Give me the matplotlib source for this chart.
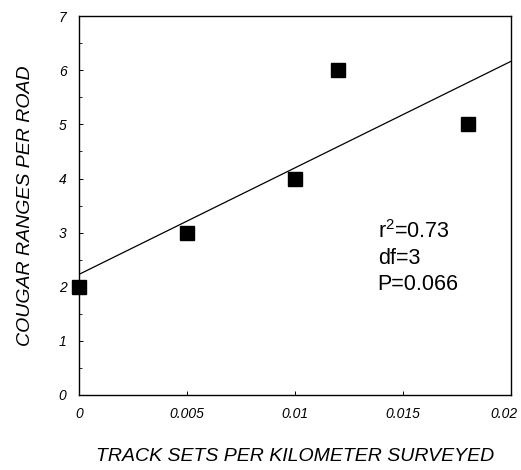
import matplotlib
matplotlib.use("Agg")
import matplotlib.pyplot as plt
import matplotlib.transforms as mtransforms
import numpy as np

# track sets per km surveyed vs cougar ranges per road
track_sets = [0.0, 0.005, 0.010, 0.012, 0.018]
ranges_per_road = [2, 3, 4, 6, 5]
x_ticks = [0, 0.005, 0.01, 0.015, 0.02]
x_tick_labels = ["0", "0.005", "0.01", "0.015", "0.02"]
y_ticks = [0, 1, 2, 3, 4, 5, 6, 7]
stats_lines = ["r$^2$=0.73", "df=3", "P=0.066"]

plt.rcParams['font.family'] = ['Liberation Sans', 'DejaVu Sans']
plt.rcParams['mathtext.fontset'] = 'custom'
plt.rcParams['mathtext.rm'] = 'Liberation Sans'

fig = plt.figure(figsize=(5.21, 4.70), dpi=100, facecolor='white')
ax = fig.add_axes([0.1516, 0.1596, 0.829, 0.806])

# least squares line from the points
slope, intercept = np.polyfit(track_sets, ranges_per_road, 1)
xl = np.array([0, 0.02])
ax.plot(xl, intercept + slope * xl, color='black', lw=0.9)

ax.plot(track_sets, ranges_per_road, 's', color='black', ms=9.5, clip_on=False)

ax.set_xlim(0, 0.02)
ax.set_ylim(0, 7)
ax.set_xticks(x_ticks)
ax.set_xticklabels(x_tick_labels, fontsize=10, style='italic')
ax.set_yticks(y_ticks)
ax.set_yticklabels([str(v) for v in y_ticks], fontsize=10, style='italic')
ax.set_yticks(np.arange(0.5, 7, 1), minor=True)
ax.tick_params(direction='in', length=3, width=0.7, pad=9)
ax.tick_params(which='minor', direction='in', length=2, width=0.6)
for s in ax.spines.values():
    s.set_linewidth(1.0)

# last x label sits a bit left so it stays on the page
last = ax.get_xticklabels()[-1]
last.set_transform(last.get_transform() +
                   mtransforms.ScaledTranslation(-5 / 72, 0, fig.dpi_scale_trans))

# stats block, one line each
for i, line in enumerate(stats_lines):
    ax.text(0.6915, 0.414 - i * 0.069, line, transform=ax.transAxes,
            fontsize=15.5, va='baseline', ha='left')

ax.set_xlabel('TRACK SETS PER KILOMETER SURVEYED', fontsize=14, style='italic', labelpad=19)
ax.set_ylabel('COUGAR RANGES PER ROAD', fontsize=14, style='italic', labelpad=18)

fig.savefig('out.png', dpi=100, facecolor='white')
